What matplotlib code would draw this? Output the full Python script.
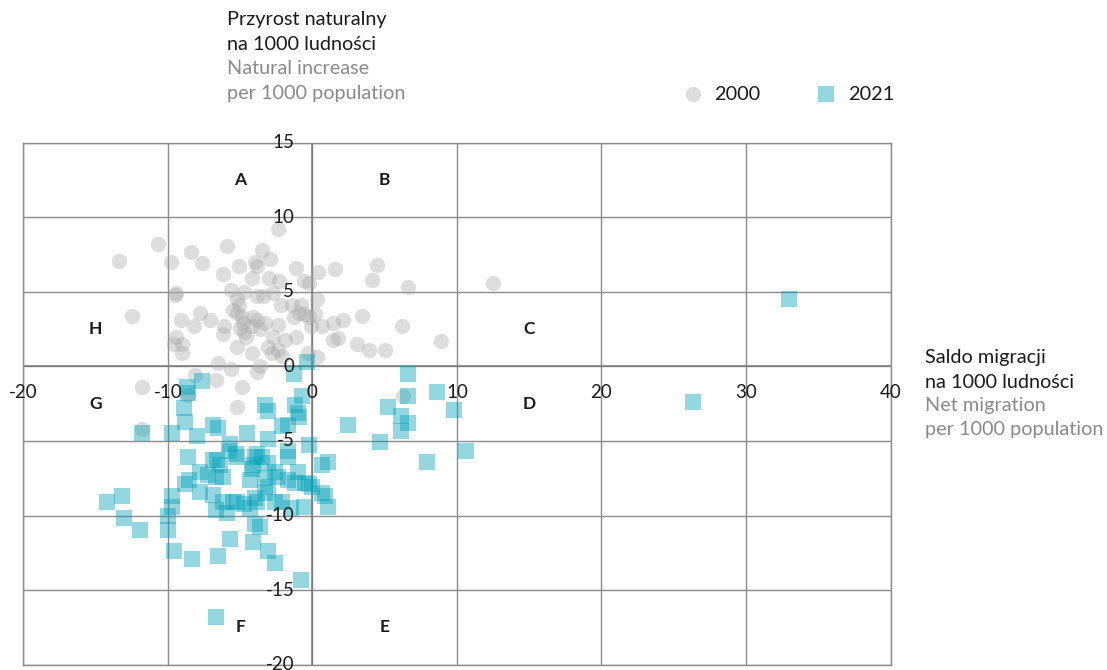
import matplotlib
matplotlib.use('Agg')
import matplotlib.pyplot as plt

plt.rcParams['font.family'] = ['Lato', 'DejaVu Sans']

# 2000 - saldo migracji (x) i przyrost naturalny (y)
x_2000 = [-13.4, -10.7, -8.4, -9.8, -7.6, -5.9, -6.2, -5.1, -3.5, -2.9, -4.0, -3.8, -2.4, -4.2, -3.0,
          -1.1, 0.4, 1.6, -2.3, -0.6, -0.2, -9.4, -9.5, -5.6, -4.7, -3.8, -3.4, -2.7, -5.2, -5.1,
          -2.2, -1.4, -0.8, 0.3, -0.6, -0.2, 0.2, -12.5, -9.1, -7.8, -7.1, -8.2, -6.1, -6.2, -5.5,
          -5.2, -4.9, -4.8, -5.0, -4.7, -4.1, -3.8, -4.2, -3.6, -3.3, -2.4, -1.3, -0.9, -0.1, 0.7,
          1.4, 1.4, -9.4, -9.6, -9.0, -9.0, -6.5, -5.6, -5.2, -4.2, -4.6, -3.6, -3.8, -2.7, -3.1,
          -2.4, -2.8, -1.9, -1.1, -0.3, 0.3, -2.1, 4.5, 4.1, 6.6, 12.5, 2.1, 3.4, 6.2, 1.8,
          3.1, 3.9, 5.0, 8.9, 6.3, -11.8, -8.6, -8.1, -6.7, -4.9, -5.2, -11.8]
y_2000 = [7.1, 8.2, 7.7, 7.0, 6.9, 8.1, 6.2, 6.7, 7.8, 7.2, 7.0, 6.7, 9.2, 5.9, 5.9,
          6.6, 6.3, 6.5, 5.7, 5.7, 5.6, 4.9, 4.8, 5.1, 5.0, 4.7, 4.7, 4.9, 4.5, 4.1,
          4.1, 4.1, 4.1, 4.5, 3.5, 3.3, 3.5, 3.4, 3.1, 3.6, 3.1, 2.7, 2.7, 2.2, 3.8,
          3.6, 3.3, 2.9, 2.6, 2.3, 3.3, 3.1, 2.7, 2.5, 2.9, 2.8, 3.3, 3.6, 2.7, 2.7,
          2.9, 1.8, 2.0, 1.5, 1.5, 0.9, 0.2, -0.2, 1.3, 0.9, 2.0, 0.0, -0.4, 2.0, 1.3,
          1.1, 0.9, 1.8, 2.0, 0.9, 0.6, 0.7, 6.8, 5.8, 5.3, 5.6, 3.1, 3.4, 2.7, 1.9,
          1.5, 1.1, 1.1, 1.7, -2.0, -1.4, -1.9, -0.6, -0.9, -1.4, -2.7, -4.2]

# 2021
x_2021 = [-0.4, -1.3, -8.7, -8.6, -7.6, -8.9, -8.8, -11.8, -9.7, -8.0, -6.9, -6.5, -5.7, -3.3, -3.1,
          -1.2, -0.7, -1.0, -0.9, -2.1, -1.7, -4.5, -3.1, -0.2, -1.7, -1.7, -5.3, -5.2, -5.8, -8.6,
          -6.9, -6.6, -6.4, -3.8, -4.0, -3.5, -3.1, -4.1, -4.2, 1.1, -2.6, -2.4, -3.3, -4.3, -7.2,
          -6.7, -6.2, -7.8, -8.5, -8.8, -1.7, -1.0, -1.2, -0.5, -0.2, 0.0, 0.7, 0.9, -3.1, -3.3,
          -4.0, -3.8, -7.8, -6.9, -6.2, -5.5, -5.2, -2.6, -2.1, -1.5, -0.6, 1.1, -4.7, -4.3, -6.7,
          -5.9, -14.2, -13.2, -13.0, -11.9, -9.7, -9.7, -10.0, -10.0, -9.6, -8.3, -6.5, -5.7, -4.1, -4.0,
          -3.6, -3.1, -2.6, -0.8, -6.7, 6.6, 8.6, 9.8, 6.6, 5.2, 6.1, 6.6, 6.1, 2.5, 4.7,
          0.7, 7.9, 10.6, 33.0, 26.3]
y_2021 = [0.3, -0.5, -1.4, -1.8, -1.0, -2.8, -3.7, -4.5, -4.5, -4.7, -3.9, -4.1, -5.2, -2.6, -3.0,
          -2.6, -2.0, -3.1, -3.4, -4.0, -3.9, -4.5, -4.9, -5.3, -5.7, -6.1, -5.9, -6.1, -5.7, -6.1,
          -6.3, -6.3, -6.6, -5.9, -6.1, -6.1, -6.5, -6.6, -6.9, -6.4, -7.1, -7.4, -7.5, -7.6, -7.3,
          -7.4, -7.4, -7.1, -7.6, -7.9, -7.6, -7.1, -7.8, -7.8, -7.9, -8.1, -8.5, -8.7, -8.1, -8.5,
          -8.8, -9.1, -8.4, -8.6, -9.1, -9.1, -9.1, -9.1, -9.1, -9.5, -9.4, -9.4, -9.2, -9.5, -9.6,
          -9.8, -9.1, -8.7, -10.2, -11.0, -8.7, -9.4, -10.0, -11.0, -12.4, -12.9, -12.7, -11.6, -11.8, -10.6,
          -10.8, -12.4, -13.2, -14.3, -16.8, -0.5, -1.7, -2.9, -2.0, -2.7, -3.3, -3.8, -4.3, -3.9, -5.1,
          -6.6, -6.4, -5.7, 4.5, -2.4]

x_ticks = [-20, -10, 0, 10, 20, 30, 40]
y_ticks = [15, 10, 5, 0, -5, -10, -15, -20]
quadrants = ['A', 'B', 'C', 'D', 'E', 'F', 'G', 'H']
quad_pos = [(-5, 12.5), (5, 12.5), (15, 2.5), (15, -2.5), (5, -17.5), (-5, -17.5), (-15, -2.5), (-15, 2.5)]

dark = '#1a1a1a'
grey_txt = '#8a8a8a'
line_col = '#8c8c8c'

fig = plt.figure(figsize=(11.07, 6.7), dpi=100)
ax = fig.add_axes([0.021, 0.008, 0.7835, 0.779])
ax.set_xlim(-20, 40)
ax.set_ylim(-20, 15)

ax.set_xticks(x_ticks)
ax.set_yticks(y_ticks)
ax.tick_params(length=0, labelbottom=False, labelleft=False)
ax.grid(True, color=line_col, lw=1.0, zorder=0)
ax.set_axisbelow(True)
for s in ax.spines.values():
    s.set_color(line_col)
    s.set_linewidth(1.0)
ax.axhline(0, color='#7a7a7a', lw=1.1, zorder=1)
ax.axvline(0, color='#7a7a7a', lw=1.1, zorder=1)

ax.scatter(x_2000, y_2000, s=120, marker='o', color='#aaaaaa', alpha=0.4, linewidths=0, zorder=2)
ax.scatter(x_2021, y_2021, s=120, marker='s', color='#00a0b9', alpha=0.42, linewidths=0, zorder=3)

# etykiety osi przy liniach zerowych
for t in x_ticks:
    ax.annotate(str(t), (t, 0), xytext=(0, -19), textcoords='offset points',
                ha='center', va='center', fontsize=13.5, color=dark, annotation_clip=False)
for t in y_ticks:
    ax.annotate(str(t), (0, t), xytext=(-13, 0), textcoords='offset points',
                ha='right', va='center', fontsize=13.5, color=dark, annotation_clip=False)

for q, (qx, qy) in zip(quadrants, quad_pos):
    ax.text(qx, qy, q, ha='center', va='center', fontsize=12.5, fontweight='bold', color=dark)

# opisy osi
fs = 14.3
fig.text(227 / 1107, 1 - 20 / 670, 'Przyrost naturalny', fontsize=fs, color=dark, va='center')
fig.text(227 / 1107, 1 - 45 / 670, 'na 1000 ludności', fontsize=fs, color=dark, va='center')
fig.text(227 / 1107, 1 - 69 / 670, 'Natural increase', fontsize=fs, color=grey_txt, va='center')
fig.text(227 / 1107, 1 - 93 / 670, 'per 1000 population', fontsize=fs, color=grey_txt, va='center')

fig.text(925 / 1107, 1 - 357 / 670, 'Saldo migracji', fontsize=fs, color=dark, va='center')
fig.text(925 / 1107, 1 - 382 / 670, 'na 1000 ludności', fontsize=fs, color=dark, va='center')
fig.text(925 / 1107, 1 - 406 / 670, 'Net migration', fontsize=fs, color=grey_txt, va='center')
fig.text(925 / 1107, 1 - 430 / 670, 'per 1000 population', fontsize=fs, color=grey_txt, va='center')

# legenda
lax = fig.add_axes([0, 0, 1, 1], facecolor='none')
lax.set_xlim(0, 1107)
lax.set_ylim(670, 0)
lax.axis('off')
lax.scatter([693], [94], s=120, marker='o', color='#aaaaaa', alpha=0.4, linewidths=0)
lax.scatter([826], [94], s=120, marker='s', color='#00a0b9', alpha=0.42, linewidths=0)
lax.text(714, 94, '2000', fontsize=fs, color=dark, va='center')
lax.text(848, 94, '2021', fontsize=fs, color=dark, va='center')

fig.savefig('out.png', dpi=100)
